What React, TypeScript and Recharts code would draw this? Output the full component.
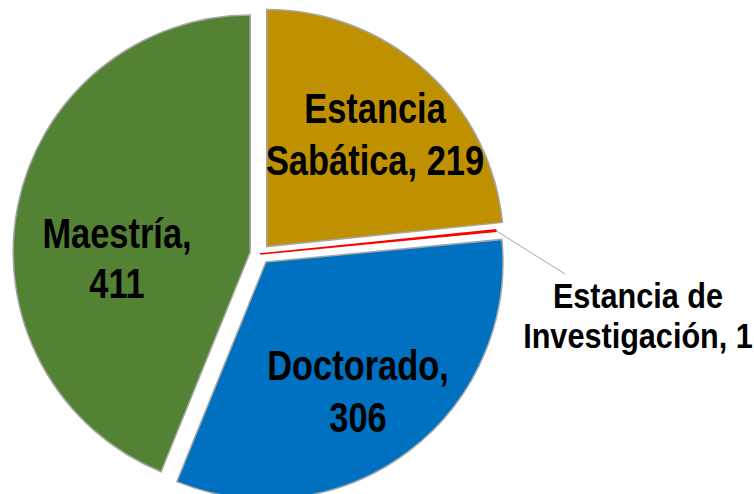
import React from 'react'
import { PieChart, Pie, Cell, Sector } from 'recharts'

const categories = ['Estancia Sabática', 'Estancia de Investigación', 'Doctorado', 'Maestría']
const values = [219, 1, 306, 411]
const colors = ['#BF9000', '#FF0000', '#0070C0', '#548235']
// words kept on the first label line
const breakAfter = [1, 2, 1, 1]

const data = categories.map((name, i) => ({ name, value: values[i] }))

const RADIAN = Math.PI / 180
const CX = 260
const CY = 254
const R = 237
const EXPLODE = [10, 0, 10, 10]
const FONT = "'Liberation Sans', Arial, sans-serif"

// label anchor (centre x, first baseline) relative to the pie centre, line gap, font size, horizontal squeeze
const LABEL = [
  { dx: 115, dy: -131, gap: 52, size: 42, sx: 0.82 },
  { dx: 378, dy: 54, gap: 40, size: 35, sx: 0.875 },
  { dx: 98, dy: 126, gap: 52, size: 42, sx: 0.82 },
  { dx: -143, dy: -6, gap: 50, size: 42, sx: 0.82 },
]

const idx = (p: any) => categories.indexOf(p?.name ?? p?.payload?.name)

const ExplodedSector = (props: any) => {
  const i = idx(props)
  const d = EXPLODE[i] ?? 0
  const dx = d * Math.cos(-props.midAngle * RADIAN)
  const dy = d * Math.sin(-props.midAngle * RADIAN)
  return <Sector {...props} cx={props.cx + dx} cy={props.cy + dy} />
}

const NarrowText = ({ x, y, size, sx, children }: any) => (
  <text
    transform={`translate(${x},${y}) scale(${sx},1)`}
    x={0}
    y={0}
    textAnchor="middle"
    fontFamily={FONT}
    fontWeight="bold"
    fontSize={size}
    fill="#000"
  >
    {children}
  </text>
)

const renderLabel = (props: any) => {
  const i = idx(props)
  if (i < 0) return null
  const words = categories[i].split(' ')
  const first = words.slice(0, breakAfter[i]).join(' ')
  const rest = words.slice(breakAfter[i]).join(' ')
  const line1 = rest ? first : `${first},`
  const line2 = rest ? `${rest}, ${values[i]}` : `${values[i]}`
  const l = LABEL[i]
  const x = props.cx + l.dx
  const y = props.cy + l.dy
  let leader = null
  if (i === 1) {
    const sx = props.cx + props.outerRadius * Math.cos(-props.midAngle * RADIAN)
    const sy = props.cy + props.outerRadius * Math.sin(-props.midAngle * RADIAN)
    leader = <line x1={sx} y1={sy} x2={x - 73} y2={y - 34} stroke="#A6A6A6" strokeWidth={1} />
  }
  return (
    <g>
      {leader}
      <NarrowText x={x} y={y} size={l.size} sx={l.sx}>{line1}</NarrowText>
      <NarrowText x={x} y={y + l.gap} size={l.size} sx={l.sx}>{line2}</NarrowText>
    </g>
  )
}

export default function App() {
  return (
    <div style={{ position: 'absolute', left: 0, top: 0, width: 754, height: 494, background: '#fff' }}>
      <PieChart width={754} height={494} margin={{ top: 0, right: 0, bottom: 0, left: 0 }}>
        <Pie
          data={data}
          dataKey="value"
          nameKey="name"
          cx={CX}
          cy={CY}
          outerRadius={R}
          startAngle={90}
          endAngle={-270}
          stroke="#A6A6A6"
          strokeWidth={1.5}
          shape={ExplodedSector}
          label={renderLabel}
          labelLine={false}
          isAnimationActive={false}
        >
          {data.map((d, i) => (
            <Cell key={d.name} fill={colors[i]} stroke={i === 1 ? '#FF0000' : '#A6A6A6'} />
          ))}
        </Pie>
      </PieChart>
    </div>
  )
}
